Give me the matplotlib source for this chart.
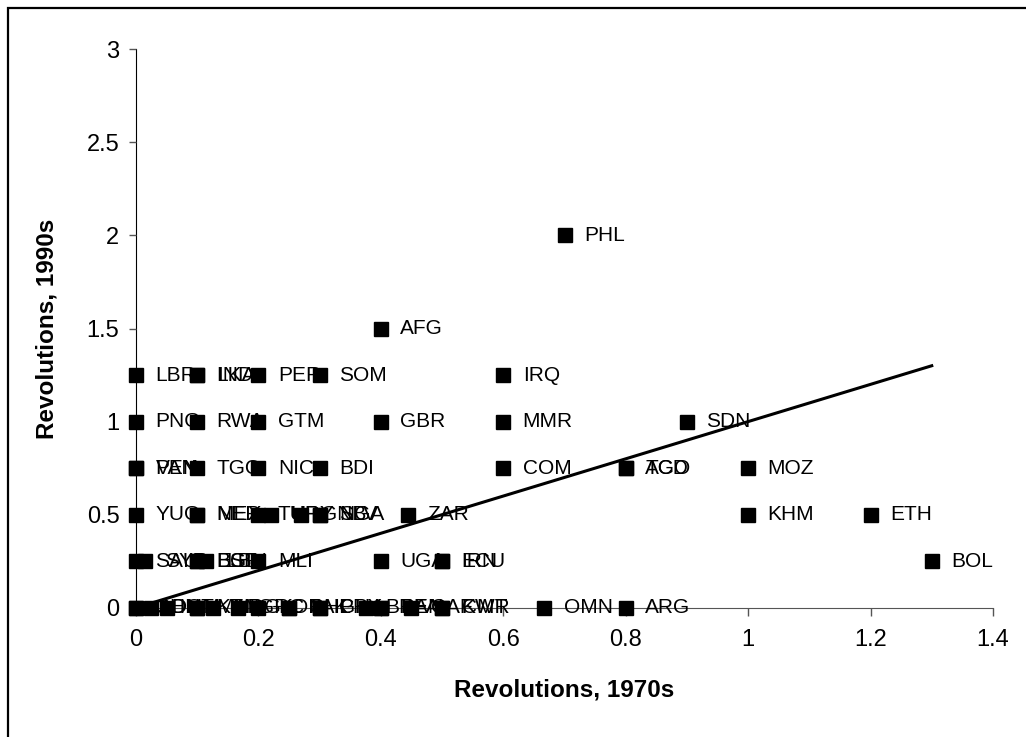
import numpy as np
import matplotlib
matplotlib.use("Agg")
import matplotlib.pyplot as plt
from matplotlib.patches import Rectangle

plt.rcParams['font.family'] = ['Liberation Sans', 'DejaVu Sans']

# country codes and revolutions per decade (1970s, 1990s)
countries = ["PHL", "AFG",
             "LBR", "IND", "LKA", "PER", "SOM", "IRQ",
             "PNG", "RWA", "GTM", "GBR", "MMR", "SDN",
             "VEN", "PAN", "TGO", "NIC", "BDI", "COM", "TCD", "AGO", "MOZ",
             "YUG", "NER", "MEX", "TUR", "URY", "GNB", "SLV", "NGA", "ZAR", "KHM", "ETH",
             "SAU", "SYR", "ESP", "BGD", "LBN", "MLI", "UGA", "ECU", "IRN", "BOL",
             "CHN", "COL", "DOM", "HTI", "MAR", "KEN", "MDG", "GRC", "KOR", "PAK",
             "CHL", "PRY", "GHA", "BRA", "BEN", "BFA", "CAF", "CMR", "KWT", "OMN", "ARG"]
rev_1970s = [0.7, 0.4,
             0.0, 0.1, 0.1, 0.2, 0.3, 0.6,
             0.0, 0.1, 0.2, 0.4, 0.6, 0.9,
             0.0, 0.0, 0.1, 0.2, 0.3, 0.6, 0.8, 0.8, 1.0,
             0.0, 0.1, 0.1, 0.2, 0.22, 0.27, 0.3, 0.3, 0.444, 1.0, 1.2,
             0.0, 0.015, 0.1, 0.1, 0.115, 0.2, 0.4, 0.5, 0.5, 1.3,
             0.0, 0.0, 0.025, 0.05, 0.1, 0.1, 0.125, 0.167, 0.2, 0.25,
             0.25, 0.3, 0.3, 0.375, 0.4, 0.4, 0.45, 0.5, 0.5, 0.667, 0.8]
rev_1990s = [2.0, 1.5,
             1.25, 1.25, 1.25, 1.25, 1.25, 1.25,
             1.0, 1.0, 1.0, 1.0, 1.0, 1.0,
             0.75, 0.75, 0.75, 0.75, 0.75, 0.75, 0.75, 0.75, 0.75,
             0.5, 0.5, 0.5, 0.5, 0.5, 0.5, 0.5, 0.5, 0.5, 0.5, 0.5,
             0.25, 0.25, 0.25, 0.25, 0.25, 0.25, 0.25, 0.25, 0.25, 0.25,
             0, 0, 0, 0, 0, 0, 0, 0, 0, 0,
             0, 0, 0, 0, 0, 0, 0, 0, 0, 0, 0]

# linear trend
trend_slope = 1.0
trend_intercept = 0.0

x_ticks = [0, 0.2, 0.4, 0.6, 0.8, 1, 1.2, 1.4]
x_ticklabels = ["0", "0.2", "0.4", "0.6", "0.8", "1", "1.2", "1.4"]
y_ticks = [0, 0.5, 1, 1.5, 2, 2.5, 3]
y_ticklabels = ["0", "0.5", "1", "1.5", "2", "2.5", "3"]

fig = plt.figure(figsize=(10.26, 7.37), dpi=100)
ax = fig.add_axes([0.1326, 0.1754, 0.8352, 0.7577])

ax.plot(rev_1970s, rev_1990s, linestyle="none", marker="s", ms=9.5,
        color="black", zorder=3, clip_on=False)
for c, x, y in zip(countries, rev_1970s, rev_1990s):
    ax.annotate(c, (x, y), xytext=(14, 0), textcoords="offset points",
                va="center", ha="left", fontsize=15, zorder=4)

xt = np.array([0, max(rev_1970s)])
ax.plot(xt, trend_slope * xt + trend_intercept, color="black", lw=2.2,
        zorder=5, clip_on=False)

ax.set_xlim(0, 1.4)
ax.set_ylim(0, 3)
ax.set_xticks(x_ticks)
ax.set_xticklabels(x_ticklabels)
ax.set_yticks(y_ticks)
ax.set_yticklabels(y_ticklabels)
ax.tick_params(axis="x", direction="out", length=6, width=1, color="#555555",
               labelsize=17, pad=9)
ax.tick_params(axis="y", direction="out", length=5, width=1, color="#555555",
               labelsize=17, pad=7)

for s in ["top", "right"]:
    ax.spines[s].set_visible(False)
ax.spines["left"].set_color("black")
ax.spines["bottom"].set_color("#555555")
ax.spines["left"].set_zorder(1)
ax.spines["bottom"].set_zorder(1)

ax.set_xlabel("Revolutions, 1970s", fontsize=17.5, fontweight="bold", labelpad=20)
ax.set_ylabel("Revolutions, 1990s", fontsize=17.5, fontweight="bold", labelpad=20)

# outer chart frame (only left and top edges fall inside the image)
fig.patches.append(Rectangle((8 / 1026, -0.1), 1.2, 1.1 - 8 / 737, fill=False,
                             lw=1.6, edgecolor="black", transform=fig.transFigure))

fig.savefig("out.png", dpi=100)
